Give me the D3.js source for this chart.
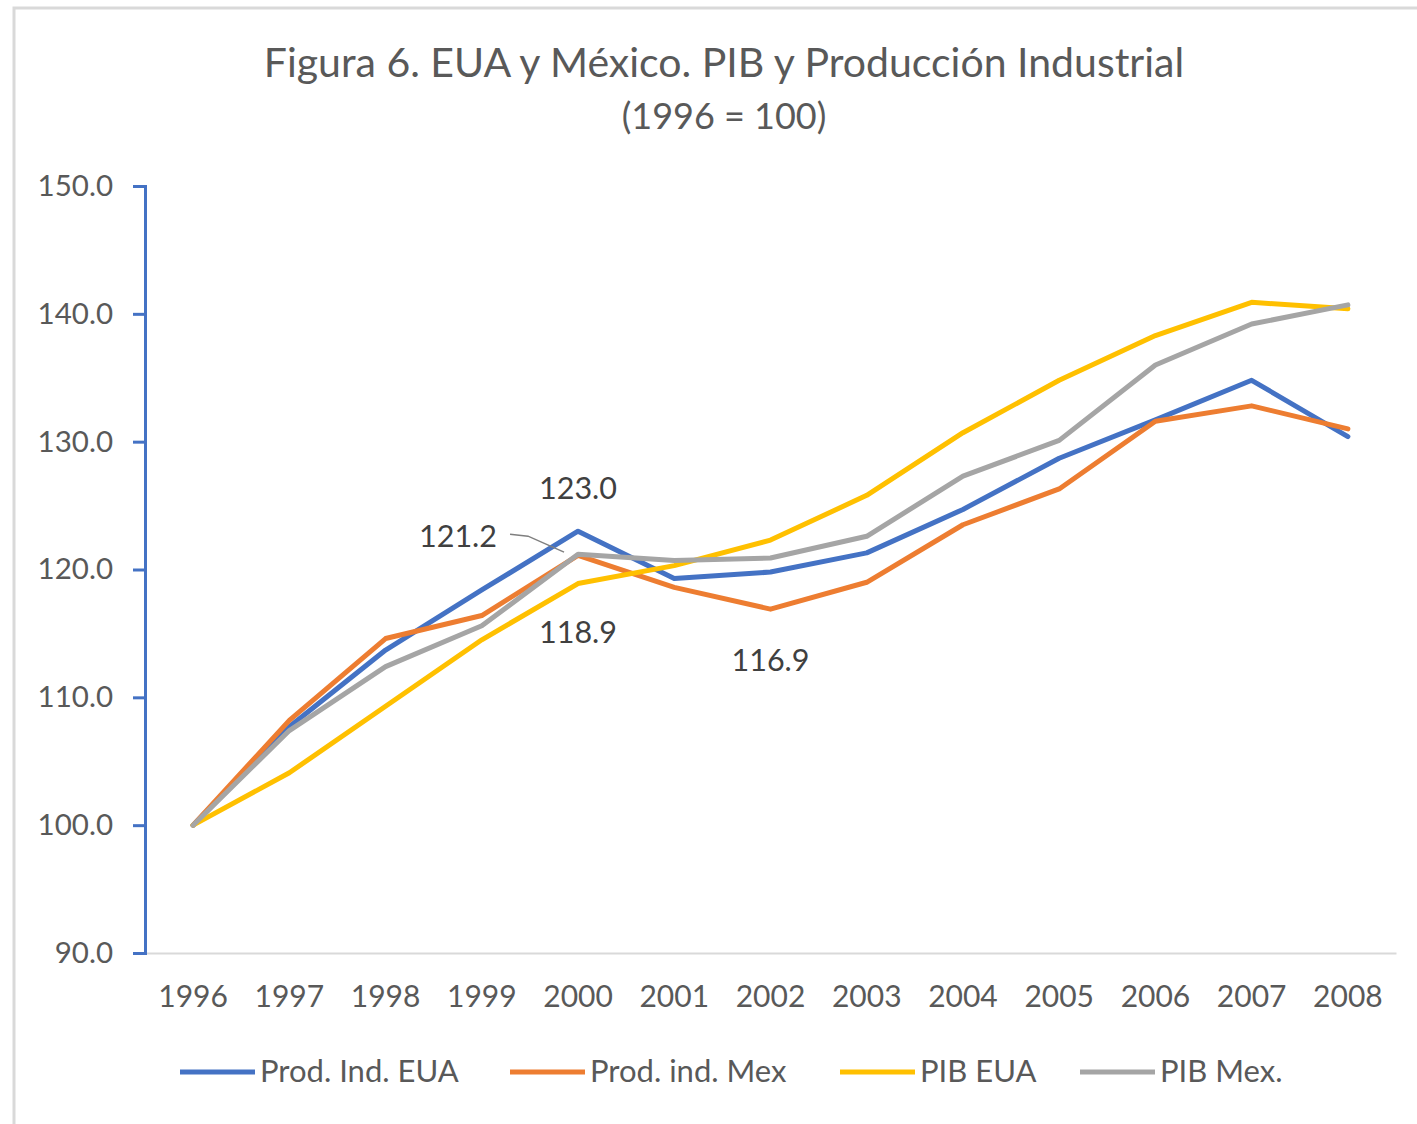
<!DOCTYPE html>
<html>
<head>
<meta charset="utf-8">
<script src="https://cdn.jsdelivr.net/npm/d3@7"></script>
<style>
  body { margin: 0; background: #fff; }
  text { font-family: Lato, "Open Sans", sans-serif; }
</style>
</head>
<body>
<div id="chart"></div>
<script>
// Figura 6 - EUA y Mexico, PIB y produccion industrial (1996 = 100)

// data
const years = ["1996", "1997", "1998", "1999", "2000", "2001", "2002", "2003", "2004", "2005", "2006", "2007", "2008"];
const seriesNames = ["Prod. Ind. EUA", "Prod. ind. Mex", "PIB EUA", "PIB Mex."];
const prodIndEUA = [100.0, 107.7, 113.7, 118.4, 123.0, 119.3, 119.8, 121.3, 124.7, 128.7, 131.7, 134.8, 130.4];
const prodIndMex = [100.0, 108.2, 114.6, 116.4, 121.1, 118.6, 116.9, 119.0, 123.5, 126.3, 131.6, 132.8, 131.0];
const pibEUA     = [100.0, 104.1, 109.3, 114.5, 118.9, 120.3, 122.3, 125.8, 130.7, 134.8, 138.3, 140.9, 140.4];
const pibMex     = [100.0, 107.4, 112.4, 115.6, 121.2, 120.7, 120.9, 122.6, 127.3, 130.1, 136.0, 139.2, 140.7];
const yTicks = [90, 100, 110, 120, 130, 140, 150];
// which points carry a value label: [series index, year index]
const labelled = [[0, 4], [3, 4], [2, 4], [1, 6]];

const colors = ["#4472C4", "#ED7D31", "#FFC000", "#A5A5A5"];
const allSeries = [prodIndEUA, prodIndMex, pibEUA, pibMex];

const W = 1417, H = 1124;
const plot = { left: 145, right: 1396, top: 186, bottom: 953 };

const svg = d3.select("#chart").append("svg")
    .attr("width", W)
    .attr("height", H);

// chart frame
svg.append("rect")
    .attr("x", 14).attr("y", 8)
    .attr("width", W + 20).attr("height", H + 20)
    .attr("fill", "#fff")
    .attr("stroke", "#d9d9d9")
    .attr("stroke-width", 3);

// title
svg.append("text")
    .attr("x", 724).attr("y", 77)
    .attr("text-anchor", "middle")
    .attr("fill", "#595959")
    .style("font-size", "41px")
    .text("Figura 6. EUA y México. PIB y Producción Industrial");

svg.append("text")
    .attr("x", 724).attr("y", 129)
    .attr("text-anchor", "middle")
    .attr("fill", "#595959")
    .style("font-size", "36px")
    .text("(1996 = 100)");

// scales
const x = d3.scaleBand()
    .domain(years)
    .range([plot.left, plot.right]);

const y = d3.scaleLinear()
    .domain([90, 150])
    .range([plot.bottom, plot.top]);

// x axis: light baseline, no ticks
const xAxis = svg.append("g")
    .attr("transform", "translate(0," + plot.bottom + ")")
    .call(d3.axisBottom(x).tickSize(0).tickPadding(33));
xAxis.select(".domain").attr("stroke", "#d9d9d9").attr("stroke-width", 2);
xAxis.selectAll("text")
    .attr("fill", "#595959")
    .style("font-size", "30px")
    .style("font-family", "Lato, sans-serif");

// y axis: blue line with outward ticks
const yAxis = svg.append("g")
    .attr("transform", "translate(" + plot.left + ",0)")
    .call(d3.axisLeft(y).tickValues(yTicks).tickFormat(d3.format(".1f")).tickSize(12).tickSizeOuter(12).tickPadding(20));
yAxis.select(".domain").attr("stroke", "#4472C4").attr("stroke-width", 3);
yAxis.selectAll(".tick line").attr("stroke", "#4472C4").attr("stroke-width", 3);
yAxis.selectAll("text")
    .attr("fill", "#595959")
    .style("font-size", "29.5px")
    .style("font-family", "Lato, sans-serif");

// lines
const line = d3.line()
    .x(function(d, i) { return x(years[i]) + x.bandwidth() / 2; })
    .y(function(d) { return y(d); });

allSeries.forEach(function(values, s) {
    svg.append("path")
        .datum(values)
        .attr("fill", "none")
        .attr("stroke", colors[s])
        .attr("stroke-width", 5)
        .attr("stroke-linejoin", "round")
        .attr("stroke-linecap", "round")
        .attr("d", line);
});

// value labels (offsets are just placement)
const labelOffsets = [
    { dx: 0, dy: -40 },     // 123.0 above
    { dx: -120, dy: -15 },  // 121.2 to the left with leader
    { dx: 0, dy: 52 },      // 118.9 below
    { dx: 0, dy: 54 }       // 116.9 below
];
labelled.forEach(function(p, k) {
    const s = p[0], i = p[1];
    const px = x(years[i]) + x.bandwidth() / 2;
    const py = y(allSeries[s][i]);
    svg.append("text")
        .attr("x", px + labelOffsets[k].dx)
        .attr("y", py + labelOffsets[k].dy)
        .attr("text-anchor", "middle")
        .attr("dominant-baseline", "middle")
        .attr("fill", "#404040")
        .style("font-size", "30.5px")
        .text(allSeries[s][i].toFixed(1));
    if (k === 1) {
        svg.append("polyline")
            .attr("points", [[px - 68, py - 20], [px - 50, py - 18], [px - 14, py - 2]].join(" "))
            .attr("fill", "none")
            .attr("stroke", "#7f7f7f")
            .attr("stroke-width", 1.5);
    }
});

// legend
const legendX = [180, 510, 840, 1080];
const legend = svg.append("g").attr("transform", "translate(0,1072)");
seriesNames.forEach(function(name, s) {
    legend.append("line")
        .attr("x1", legendX[s]).attr("x2", legendX[s] + 75)
        .attr("y1", 0).attr("y2", 0)
        .attr("stroke", colors[s])
        .attr("stroke-width", 5);
    legend.append("text")
        .attr("x", legendX[s] + 80)
        .attr("y", 2)
        .attr("dominant-baseline", "middle")
        .attr("fill", "#595959")
        .style("font-size", "31px")
        .text(name);
});
</script>
</body>
</html>
